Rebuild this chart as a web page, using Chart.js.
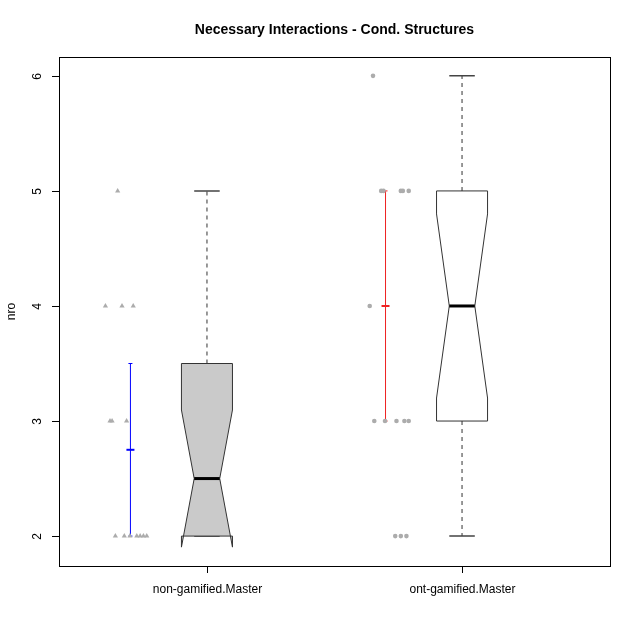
<!DOCTYPE html>
<html>
<head>
<meta charset="utf-8">
<script src="https://cdn.jsdelivr.net/npm/chart.js@4"></script>
<style>
  html, body { margin: 0; padding: 0; background: #fff; }
  #wrap { width: 640px; height: 640px; }
</style>
</head>
<body>
<div id="wrap"><canvas id="chart" width="640" height="640"></canvas></div>
<script>
// --- data ---
const categories = ['non-gamified.Master', 'ont-gamified.Master'];
const yTicks = [2, 3, 4, 5, 6];

// box statistics per category
const whiskLo = [2, 2];
const q1 = [2, 3];
const medians = [2.5, 4];
const q3 = [3.5, 5];
const whiskHi = [5, 6];
const notchLo = [1.904, 3.2];
const notchHi = [3.096, 4.8];

// mean +/- bars beside each box
const errX = [0.70, 1.70];
const errLow = [2, 3];
const errMean = [2.75, 4];
const errHigh = [3.5, 5];

// jittered raw points
const nonGamX = [0.650, 0.602, 0.667, 0.711, 0.620, 0.628, 0.685, 0.641, 0.676, 0.698, 0.725, 0.738, 0.751, 0.764];
const nonGamY = [5, 4, 4, 4, 3, 3, 3, 2, 2, 2, 2, 2, 2, 2];
const gamX = [1.651, 1.683, 1.692, 1.760, 1.768, 1.791, 1.638, 1.656, 1.698, 1.743, 1.774, 1.791, 1.738, 1.760, 1.782];
const gamY = [6, 5, 5, 5, 5, 5, 4, 3, 3, 3, 3, 3, 2, 2, 2];

const boxFill = ['#cacaca', '#ffffff'];
const FONT = '"Liberation Sans", Arial, Helvetica, sans-serif';

function toPoints(xs, ys) {
    return xs.map((v, i) => ({ x: v, y: ys[i] }));
}

// boxes, notches, whiskers
const boxPlugin = {
    id: 'boxes',
    beforeDatasetsDraw(chart) {
        const { ctx, scales: { x, y } } = chart;
        const halfW = 0.1, capW = 0.05;
        categories.forEach((c, i) => {
            const cx = i + 1;
            const px = v => x.getPixelForValue(v);
            const py = v => y.getPixelForValue(v);
            ctx.save();
            // dashed whiskers
            ctx.strokeStyle = '#777';
            ctx.lineWidth = 1.5;
            ctx.setLineDash([4, 4]);
            ctx.beginPath();
            ctx.moveTo(px(cx), py(q3[i]));
            ctx.lineTo(px(cx), py(whiskHi[i]));
            ctx.moveTo(px(cx), py(q1[i]));
            ctx.lineTo(px(cx), py(whiskLo[i]));
            ctx.stroke();
            ctx.setLineDash([]);
            // staples
            ctx.strokeStyle = '#444';
            ctx.lineWidth = 1.5;
            ctx.beginPath();
            ctx.moveTo(px(cx - capW), py(whiskHi[i]));
            ctx.lineTo(px(cx + capW), py(whiskHi[i]));
            ctx.moveTo(px(cx - capW), py(whiskLo[i]));
            ctx.lineTo(px(cx + capW), py(whiskLo[i]));
            ctx.stroke();
            // notched box
            const nw = halfW / 2;
            const pts = [
                [cx - halfW, q1[i]], [cx - halfW, notchLo[i]], [cx - nw, medians[i]], [cx - halfW, notchHi[i]], [cx - halfW, q3[i]],
                [cx + halfW, q3[i]], [cx + halfW, notchHi[i]], [cx + nw, medians[i]], [cx + halfW, notchLo[i]], [cx + halfW, q1[i]]
            ];
            ctx.beginPath();
            pts.forEach((p, k) => k ? ctx.lineTo(px(p[0]), py(p[1])) : ctx.moveTo(px(p[0]), py(p[1])));
            ctx.closePath();
            ctx.fillStyle = boxFill[i];
            ctx.fill();
            ctx.strokeStyle = '#333';
            ctx.lineWidth = 1;
            ctx.stroke();
            // median
            ctx.strokeStyle = '#000';
            ctx.lineWidth = 3;
            ctx.beginPath();
            ctx.moveTo(px(cx - nw), py(medians[i]));
            ctx.lineTo(px(cx + nw), py(medians[i]));
            ctx.stroke();
            ctx.restore();
        });
    }
};

// frame, ticks, labels, title (R style)
const axesPlugin = {
    id: 'rAxes',
    afterDraw(chart) {
        const { ctx, chartArea: a, scales: { x, y } } = chart;
        ctx.save();
        ctx.strokeStyle = '#000';
        ctx.lineWidth = 1;
        ctx.strokeRect(a.left + 0.5, a.top + 0.5, a.right - a.left, a.bottom - a.top);
        ctx.fillStyle = '#000';
        ctx.font = '12px ' + FONT;
        ctx.textAlign = 'center';
        ctx.textBaseline = 'middle';
        yTicks.forEach(v => {
            const py = Math.round(y.getPixelForValue(v)) + 0.5;
            ctx.beginPath();
            ctx.moveTo(a.left - 7, py);
            ctx.lineTo(a.left, py);
            ctx.stroke();
            ctx.save();
            ctx.translate(a.left - 21, py);
            ctx.rotate(-Math.PI / 2);
            ctx.fillText(String(v), 0, 0);
            ctx.restore();
        });
        categories.forEach((c, i) => {
            const px = Math.round(x.getPixelForValue(i + 1)) + 0.5;
            ctx.beginPath();
            ctx.moveTo(px, a.bottom);
            ctx.lineTo(px, a.bottom + 7);
            ctx.stroke();
            ctx.fillText(c, px, a.bottom + 24);
        });
        ctx.save();
        ctx.translate(12, (a.top + a.bottom) / 2);
        ctx.rotate(-Math.PI / 2);
        ctx.fillText('nro', 0, 0);
        ctx.restore();
        ctx.font = 'bold 14px ' + FONT;
        ctx.fillText('Necessary Interactions - Cond. Structures', (a.left + a.right) / 2, 30);
        ctx.restore();
    }
};

const errStyle = {
    type: 'line',
    showLine: true,
    borderWidth: 1,
    pointStyle: 'line',
    pointRadius: [2, 4, 2],
    pointBorderWidth: [1, 2, 1]
};

new Chart(document.getElementById('chart'), {
    type: 'scatter',
    data: {
        datasets: [
            {
                data: toPoints(nonGamX, nonGamY),
                pointStyle: 'triangle',
                pointRadius: 3,
                backgroundColor: '#acacac',
                borderColor: '#acacac',
                borderWidth: 0
            },
            {
                data: toPoints(gamX, gamY),
                pointStyle: 'circle',
                pointRadius: 2.3,
                backgroundColor: '#acacac',
                borderColor: '#acacac',
                borderWidth: 0
            },
            Object.assign({}, errStyle, {
                data: [{ x: errX[0], y: errLow[0] }, { x: errX[0], y: errMean[0] }, { x: errX[0], y: errHigh[0] }],
                borderColor: '#0000ff',
                pointBorderColor: '#0000ff'
            }),
            Object.assign({}, errStyle, {
                data: [{ x: errX[1], y: errLow[1] }, { x: errX[1], y: errMean[1] }, { x: errX[1], y: errHigh[1] }],
                borderColor: '#ee2222',
                pointBorderColor: '#ee2222'
            })
        ]
    },
    options: {
        responsive: false,
        animation: false,
        events: [],
        layout: { padding: { left: 59, right: 30, top: 57, bottom: 74 } },
        plugins: { legend: { display: false }, tooltip: { enabled: false } },
        scales: {
            x: { type: 'linear', min: 0.42, max: 2.58, display: false },
            y: { type: 'linear', min: 1.74, max: 6.164, display: false }
        }
    },
    plugins: [boxPlugin, axesPlugin]
});
</script>
</body>
</html>
